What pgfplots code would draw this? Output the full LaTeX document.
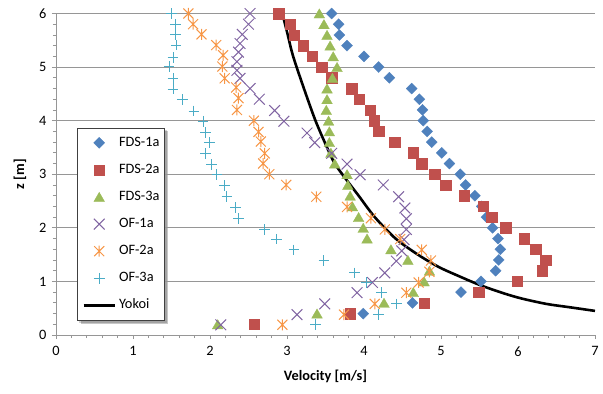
\documentclass[border=0pt]{standalone}
\usepackage{pgfplots}
\pgfplotsset{compat=1.18}
\usepackage{fontspec}
\setmainfont{Carlito}
\pgfdeclarelayer{background}
\pgfsetlayers{background,main}
\definecolor{cA}{HTML}{4F81BD}
\definecolor{cB}{HTML}{C0504D}
\definecolor{cC}{HTML}{9BBB59}
\definecolor{cD}{HTML}{8064A2}
\definecolor{cE}{HTML}{F79646}
\definecolor{cF}{HTML}{4BACC6}
\definecolor{gridc}{HTML}{969696}
\pgfdeclareplotmark{xast}{%
  \pgfpathmoveto{\pgfqpoint{-\pgfplotmarksize}{-\pgfplotmarksize}}%
  \pgfpathlineto{\pgfqpoint{\pgfplotmarksize}{\pgfplotmarksize}}%
  \pgfpathmoveto{\pgfqpoint{-\pgfplotmarksize}{\pgfplotmarksize}}%
  \pgfpathlineto{\pgfqpoint{\pgfplotmarksize}{-\pgfplotmarksize}}%
  \pgfpathmoveto{\pgfqpoint{0pt}{-1.1\pgfplotmarksize}}%
  \pgfpathlineto{\pgfqpoint{0pt}{1.1\pgfplotmarksize}}%
  \pgfusepathqstroke}
\begin{document}
\begin{tikzpicture}[font=\fontsize{14.4}{17}\selectfont]
\useasboundingbox (-56bp,-59bp) rectangle (547bp,335bp);
\begin{axis}[
  at={(0,0)}, anchor=south west, scale only axis,
  width=539bp, height=321.5bp,
  xmin=0, xmax=7, ymin=0, ymax=6,
  xtick={0,1,...,7}, ytick={0,1,...,6},
  minor x tick num=4, minor y tick num=4,
  axis x line*=bottom, axis y line*=left,
  axis line style={draw=gridc, line width=0.9bp, -},
  ymajorgrids,
  major grid style={draw=gridc, line width=0.9bp},
  tick style={draw=gridc, line width=0.8bp},
  tick align=outside, major tick length=4bp, minor tick length=3bp,
  /pgf/number format/assume math mode=true,
  xticklabel style={yshift=-4bp},
  yticklabel style={xshift=-2bp},
  xlabel={\textbf{Velocity [m/s]}},
  ylabel={\textbf{z [m]}},
  xlabel style={at={(axis description cs:0.5,-0.13)}, anchor=center},
  ylabel style={at={(axis description cs:-0.067,0.5)}, anchor=center},
  clip=false,
  legend cell align=left,
  legend image code/.code={\draw[mark repeat=2,mark phase=2,#1] plot coordinates {(0bp,0bp) (15.5bp,0bp) (31bp,0bp)};},
  legend style={name=leg, at={(axis description cs:0.039,0.645)}, anchor=north west,
    draw=black!75, line width=0.8bp, fill=white,
    nodes={inner sep=0pt, text height=10bp, text depth=3.5bp},
    row sep=13.6bp, inner xsep=5bp, inner ysep=8bp, column sep=3bp},
]
\addplot[only marks, mark=square*, mark size=3.9bp, color=cA, mark options={rotate=45, line width=0.3bp}] coordinates {
(3.58,6.0)(3.67,5.8)(3.68,5.6)(3.78,5.4)(4.00,5.2)(4.19,5.0)(4.33,4.8)(4.62,4.6)(4.72,4.4)(4.76,4.2)(4.77,4.0)(4.82,3.8)(4.88,3.6)(5.01,3.4)(5.11,3.2)(5.25,3.0)(5.32,2.8)(5.44,2.6)(5.53,2.4)(5.59,2.2)(5.67,2.0)(5.74,1.8)(5.77,1.6)(5.75,1.4)(5.71,1.2)(5.52,1.0)(5.26,0.8)(4.63,0.6)(3.99,0.4)};
\addlegendentry{FDS-1a}
\addplot[only marks, mark=square*, mark size=5.2bp, color=cB, mark options={line width=0.3bp}] coordinates {
(2.89,6.0)(3.04,5.8)(3.09,5.6)(3.21,5.4)(3.33,5.2)(3.45,5.0)(3.58,4.8)(3.84,4.6)(3.94,4.4)(4.08,4.2)(4.13,4.0)(4.19,3.8)(4.40,3.6)(4.64,3.4)(4.75,3.2)(4.92,3.0)(5.06,2.8)(5.30,2.6)(5.55,2.4)(5.66,2.2)(5.84,2.0)(6.08,1.8)(6.23,1.6)(6.36,1.4)(6.31,1.2)(5.99,1.0)(5.49,0.8)(4.78,0.6)(3.82,0.4)(2.57,0.2)};
\addlegendentry{FDS-2a}
\addplot[only marks, mark=triangle*, mark size=6.2bp, color=cC, mark options={line width=0.3bp, yshift=-1.5bp}] coordinates {
(3.42,6.0)(3.48,5.8)(3.52,5.6)(3.56,5.4)(3.60,5.2)(3.65,5.0)(3.59,4.8)(3.52,4.6)(3.52,4.4)(3.51,4.2)(3.54,4.0)(3.55,3.8)(3.55,3.6)(3.57,3.4)(3.62,3.2)(3.78,3.0)(3.79,2.8)(3.82,2.6)(3.85,2.4)(3.93,2.2)(3.99,2.0)(4.04,1.8)(4.35,1.6)(4.57,1.4)(4.85,1.2)(4.78,1.0)(4.64,0.8)(4.26,0.6)(3.39,0.4)(2.10,0.2)};
\addlegendentry{FDS-3a}
\addplot[only marks, mark=x, mark size=7.6bp, color=cD, mark options={line width=1bp}] coordinates {
(2.52,6.00)(2.50,5.80)(2.42,5.61)(2.39,5.44)(2.37,5.28)(2.35,5.10)(2.35,4.94)(2.39,4.79)(2.52,4.60)(2.64,4.40)(2.84,4.19)(2.96,3.99)(3.26,3.77)(3.36,3.59)(3.58,3.39)(3.78,3.19)(3.95,2.99)(4.25,2.80)(4.45,2.58)(4.53,2.37)(4.55,2.17)(4.55,1.97)(4.52,1.78)(4.49,1.57)(4.42,1.38)(4.27,1.16)(4.11,0.98)(3.91,0.79)(3.49,0.58)(3.13,0.38)(2.14,0.19)};
\addlegendentry{OF-1a}
\addplot[only marks, mark=xast, mark size=5bp, color=cE, mark options={line width=1bp}] coordinates {
(1.72,6.00)(1.78,5.80)(1.89,5.61)(2.08,5.41)(2.17,5.22)(2.16,5.01)(2.19,4.79)(2.34,4.62)(2.37,4.42)(2.35,4.20)(2.57,4.00)(2.63,3.79)(2.66,3.61)(2.71,3.39)(2.69,3.20)(2.77,3.00)(2.99,2.80)(3.38,2.58)(3.78,2.39)(4.09,2.18)(4.27,1.97)(4.47,1.79)(4.75,1.59)(4.87,1.39)(4.85,1.18)(4.71,0.98)(4.55,0.79)(4.14,0.58)(3.74,0.38)(2.94,0.19)};
\addlegendentry{OF-2a}
\addplot[only marks, mark=+, mark size=5.3bp, color=cF, mark options={line width=1bp}] coordinates {
(1.50,6.00)(1.55,5.79)(1.55,5.60)(1.56,5.41)(1.52,5.18)(1.47,5.01)(1.52,4.79)(1.52,4.59)(1.64,4.39)(1.79,4.18)(1.91,3.99)(1.94,3.78)(1.99,3.59)(1.94,3.39)(2.02,3.18)(2.09,2.99)(2.19,2.79)(2.22,2.59)(2.33,2.38)(2.37,2.17)(2.71,1.97)(2.86,1.79)(3.09,1.59)(3.48,1.39)(3.88,1.16)(4.03,0.98)(4.23,0.79)(4.42,0.58)(4.19,0.38)(3.37,0.20)};
\addlegendentry{OF-3a}
\addplot[black, line width=2.6bp, smooth, no marks] coordinates {
(2.94,6.0)(3.01,5.6)(3.08,5.2)(3.22,4.6)(3.37,4.0)(3.52,3.5)(3.62,3.2)(3.77,2.9)(3.93,2.6)(4.14,2.2)(4.41,1.8)(4.70,1.5)(4.97,1.27)(5.23,1.1)(5.51,0.93)(5.81,0.78)(6.05,0.68)(6.37,0.58)(6.66,0.52)(7.0,0.45)};
\addlegendentry{Yokoi}
\end{axis}
\begin{pgfonlayer}{background}
\fill[black, opacity=0.18] ([xshift=2bp,yshift=-2bp]leg.south west) rectangle ([xshift=2bp,yshift=-2bp]leg.north east);
\fill[black, opacity=0.22] ([xshift=3.5bp,yshift=-3.5bp]leg.south west) rectangle ([xshift=3.5bp,yshift=-3.5bp]leg.north east);
\end{pgfonlayer}
\end{tikzpicture}
\end{document}
